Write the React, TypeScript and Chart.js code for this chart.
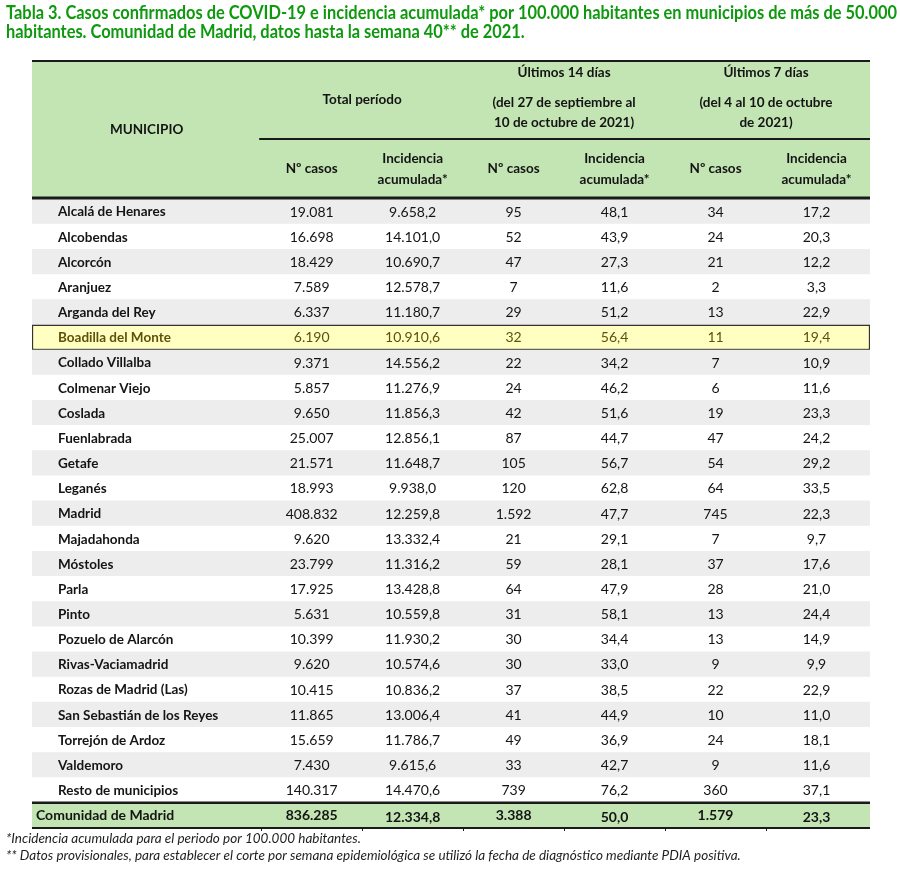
import React, { useEffect, useRef } from 'react';
import { Chart, registerables } from 'chart.js';

Chart.register(...registerables);

const titleLines = [
  'Tabla 3. Casos confirmados de COVID-19 e incidencia acumulada* por 100.000 habitantes en municipios de más de 50.000',
  'habitantes. Comunidad de Madrid, datos hasta la semana 40** de 2021.',
];

const footnotes = [
  '*Incidencia acumulada para el periodo por 100.000 habitantes.',
  '** Datos provisionales, para establecer el corte por semana epidemiológica se utilizó la fecha de diagnóstico mediante PDIA positiva.',
];

const municipios = [
  'Alcalá de Henares', 'Alcobendas', 'Alcorcón', 'Aranjuez', 'Arganda del Rey', 'Boadilla del Monte',
  'Collado Villalba', 'Colmenar Viejo', 'Coslada', 'Fuenlabrada', 'Getafe', 'Leganés', 'Madrid',
  'Majadahonda', 'Móstoles', 'Parla', 'Pinto', 'Pozuelo de Alarcón', 'Rivas-Vaciamadrid',
  'Rozas de Madrid (Las)', 'San Sebastián de los Reyes', 'Torrejón de Ardoz', 'Valdemoro', 'Resto de municipios',
];

const casosTotal = [19081, 16698, 18429, 7589, 6337, 6190, 9371, 5857, 9650, 25007, 21571, 18993, 408832, 9620, 23799, 17925, 5631, 10399, 9620, 10415, 11865, 15659, 7430, 140317];
const incTotal = [9658.2, 14101.0, 10690.7, 12578.7, 11180.7, 10910.6, 14556.2, 11276.9, 11856.3, 12856.1, 11648.7, 9938.0, 12259.8, 13332.4, 11316.2, 13428.8, 10559.8, 11930.2, 10574.6, 10836.2, 13006.4, 11786.7, 9615.6, 14470.6];
const casos14 = [95, 52, 47, 7, 29, 32, 22, 24, 42, 87, 105, 120, 1592, 21, 59, 64, 31, 30, 30, 37, 41, 49, 33, 739];
const inc14 = [48.1, 43.9, 27.3, 11.6, 51.2, 56.4, 34.2, 46.2, 51.6, 44.7, 56.7, 62.8, 47.7, 29.1, 28.1, 47.9, 58.1, 34.4, 33.0, 38.5, 44.9, 36.9, 42.7, 76.2];
const casos7 = [34, 24, 21, 2, 13, 11, 7, 6, 19, 47, 54, 64, 745, 7, 37, 28, 13, 13, 9, 22, 10, 24, 9, 360];
const inc7 = [17.2, 20.3, 12.2, 3.3, 22.9, 19.4, 10.9, 11.6, 23.3, 24.2, 29.2, 33.5, 22.3, 9.7, 17.6, 21.0, 24.4, 14.9, 9.9, 22.9, 11.0, 18.1, 11.6, 37.1];

const totalLabel = 'Comunidad de Madrid';
const totalRow = [836285, 12334.8, 3388, 50.0, 1579, 23.3];
const highlighted = 'Boadilla del Monte';

const headerMunicipio = 'MUNICIPIO';
const groupHeaders = [
  ['Total período'],
  ['Últimos 14 días', '(del 27 de septiembre al', '10 de octubre de 2021)'],
  ['Últimos 7 días', '(del 4 al 10 de octubre', 'de 2021)'],
];
const subHeaders = [['Nº casos'], ['Incidencia', 'acumulada*']];

// layout (x units)
const MUNI_W = 2.27;
const X_MAX = 8.3;

const FONT = 'Lato, "Open Sans", sans-serif';
const GREEN_BG = '#c3e4b3';
const GREY_BG = '#ededed';
const YELLOW_BG = '#ffffc2';
const TEXT = '#141414';

const fmtInt = (n: number) => String(Math.round(n)).replace(/\B(?=(\d{3})+(?!\d))/g, '.');
const fmtDec = (n: number) => {
  const [a, b] = n.toFixed(1).split('.');
  return a.replace(/\B(?=(\d{3})+(?!\d))/g, '.') + ',' + b;
};

const rowLabels = [...municipios, totalLabel];
const rowColors = rowLabels.map((m, i) =>
  i === rowLabels.length - 1 ? GREEN_BG : m === highlighted ? YELLOW_BG : i % 2 === 0 ? GREY_BG : '#ffffff'
);

const tablePlugin = {
  id: 'tableText',
  afterDatasetsDraw(chart: any) {
    const ctx: CanvasRenderingContext2D = chart.ctx;
    const xs = chart.scales.x;
    const ys = chart.scales.y;
    const L = xs.getPixelForValue(0);
    const R = xs.getPixelForValue(X_MAX);
    const top = chart.chartArea.top;
    const colX = (i: number) => xs.getPixelForValue(MUNI_W + i + 0.5);
    const edge = (i: number) => xs.getPixelForValue(MUNI_W + i);
    ctx.save();

    // title (line 1 fitted to width; line 2 squeezed by the same factor)
    ctx.fillStyle = '#0f990f';
    ctx.font = `bold 18.5px ${FONT}`;
    ctx.textAlign = 'left';
    ctx.textBaseline = 'alphabetic';
    const w1 = ctx.measureText(titleLines[0]).width;
    const k = Math.min(1, 891 / w1);
    const w2 = ctx.measureText(titleLines[1]).width;
    ctx.fillText(titleLines[0], 6, 19, w1 * k);
    ctx.fillText(titleLines[1], 6, 38, w2 * k);

    // header background
    const hTop = 62;
    ctx.fillStyle = GREEN_BG;
    ctx.fillRect(L, hTop, R - L, top - hTop);

    // header lines
    ctx.strokeStyle = '#1a1a1a';
    ctx.lineWidth = 2;
    ctx.beginPath();
    ctx.moveTo(L, hTop - 1); ctx.lineTo(R, hTop - 1);
    ctx.stroke();
    ctx.beginPath();
    ctx.moveTo(edge(0) - 2, 139); ctx.lineTo(R, 139);
    ctx.stroke();
    ctx.lineWidth = 3;
    ctx.beginPath();
    ctx.moveTo(L, top - 1); ctx.lineTo(R, top - 1);
    ctx.stroke();

    // header text
    ctx.fillStyle = TEXT;
    ctx.font = `bold 13.5px ${FONT}`;
    ctx.textAlign = 'center';
    ctx.textBaseline = 'middle';
    ctx.fillText(headerMunicipio, xs.getPixelForValue(MUNI_W / 2), 130);
    groupHeaders.forEach((lines, g) => {
      const cx = (edge(g * 2) + edge(g * 2 + 2)) / 2;
      if (lines.length === 1) {
        ctx.fillText(lines[0], cx, 100);
      } else {
        ctx.fillText(lines[0], cx, 73);
        ctx.fillText(lines[1], cx, 103);
        ctx.fillText(lines[2], cx, 123);
      }
    });
    for (let c = 0; c < 6; c++) {
      const sh = subHeaders[c % 2];
      if (sh.length === 1) ctx.fillText(sh[0], colX(c), 169);
      else {
        ctx.fillText(sh[0], colX(c), 159);
        ctx.fillText(sh[1], colX(c), 180);
      }
    }

    // body rows
    const cols = [casosTotal, incTotal, casos14, inc14, casos7, inc7];
    municipios.forEach((m, i) => {
      const y = ys.getPixelForValue(i) + 0.5;
      ctx.fillStyle = m === highlighted ? '#5e5208' : TEXT;
      ctx.textAlign = 'left';
      ctx.font = `bold 13.5px ${FONT}`;
      ctx.fillText(m, L + 26, y);
      ctx.textAlign = 'center';
      ctx.font = `14px ${FONT}`;
      cols.forEach((arr, c) => {
        const v = arr[i];
        ctx.fillText(c % 2 === 0 ? fmtInt(v) : fmtDec(v), colX(c), y);
      });
    });

    // total row
    const ti = rowLabels.length - 1;
    const ty = ys.getPixelForValue(ti) + 0.5;
    ctx.fillStyle = TEXT;
    ctx.font = `bold 14px ${FONT}`;
    ctx.textAlign = 'left';
    ctx.fillText(totalLabel, L + 4, ty);
    ctx.textAlign = 'center';
    totalRow.forEach((v, c) => {
      ctx.fillText(c % 2 === 0 ? fmtInt(v) : fmtDec(v), colX(c), ty + (c % 2 === 1 ? 1.5 : 0));
    });

    // total row lines
    const tTop = ys.getPixelForValue(ti - 0.5);
    const tBot = chart.chartArea.bottom;
    ctx.strokeStyle = '#1a1a1a';
    ctx.lineWidth = 2.5;
    ctx.beginPath();
    ctx.moveTo(L, tTop); ctx.lineTo(R, tTop);
    ctx.stroke();
    ctx.lineWidth = 2;
    ctx.beginPath();
    ctx.moveTo(L, tBot); ctx.lineTo(R, tBot);
    ctx.stroke();
    ctx.lineWidth = 1;
    ctx.beginPath();
    for (let c = 0; c <= 5; c++) {
      const ex = Math.round(edge(c)) + 0.5;
      ctx.moveTo(ex, tBot); ctx.lineTo(ex, tBot + 3);
    }
    ctx.stroke();

    // footnotes
    ctx.fillStyle = '#1e1e1e';
    ctx.font = `italic 13.5px ${FONT}`;
    ctx.textAlign = 'left';
    ctx.fillText(footnotes[0], 6, 839);
    ctx.fillText(footnotes[1], 6, 856, 738);

    ctx.restore();
  },
};

export default function App() {
  const ref = useRef<HTMLCanvasElement | null>(null);
  useEffect(() => {
    if (!ref.current) return;
    const chart = new Chart(ref.current, {
      type: 'bar',
      data: {
        labels: rowLabels,
        datasets: [
          {
            data: rowLabels.map(() => [0, X_MAX]) as any,
            backgroundColor: rowColors,
            borderColor: rowLabels.map((m) => (m === highlighted ? '#333333' : 'rgba(0,0,0,0)')),
            borderWidth: rowLabels.map((m) => (m === highlighted ? 1.5 : 0)),
            borderSkipped: false,
            barPercentage: 1,
            categoryPercentage: 1,
          },
        ],
      },
      options: {
        indexAxis: 'y',
        responsive: false,
        animation: false,
        layout: { padding: { left: 32, right: 30, top: 199, bottom: 42 } },
        scales: {
          x: { type: 'linear', min: 0, max: X_MAX, display: false },
          y: { type: 'category', display: false, offset: true },
        },
        plugins: { legend: { display: false }, tooltip: { enabled: false }, title: { display: false } },
      },
      plugins: [tablePlugin],
    });
    return () => chart.destroy();
  }, []);
  return (
    <div style={{ position: 'absolute', left: 0, top: 0, width: 900, height: 870, background: '#ffffff' }}>
      <canvas ref={ref} width={900} height={870} style={{ display: 'block' }} />
    </div>
  );
}
